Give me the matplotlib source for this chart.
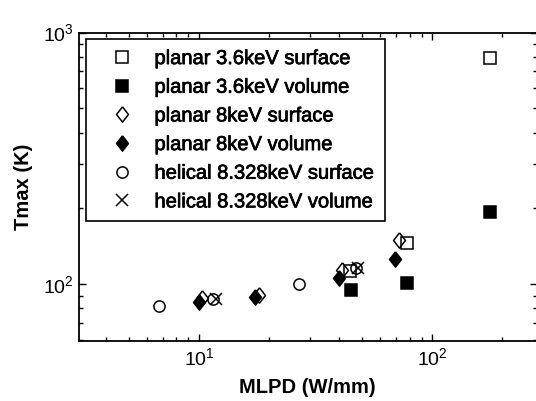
import matplotlib
matplotlib.use("Agg")
import matplotlib.pyplot as plt
import matplotlib.patheffects as pe
from matplotlib.ticker import LogLocator, NullFormatter

plt.rcParams['font.family'] = ['Liberation Sans', 'DejaVu Sans']
plt.rcParams['mathtext.fontset'] = 'custom'
plt.rcParams['mathtext.rm'] = 'Liberation Sans'

labels = ["planar 3.6keV surface", "planar 3.6keV volume", "planar 8keV surface",
          "planar 8keV volume", "helical 8.328keV surface", "helical 8.328keV volume"]

p36_surf_x = [44.4, 78.1, 176.6]
p36_surf_y = [113, 146, 789]
p36_vol_x = [44.8, 77.6, 176.6]
p36_vol_y = [94.7, 101, 194]
p8_surf_x = [10.3, 18.1, 41.1, 72.0]
p8_surf_y = [87.7, 90.4, 114, 150]
p8_vol_x = [10.0, 17.4, 39.8, 69.2]
p8_vol_y = [85.1, 88.5, 106, 126]
hel_surf_x = [6.74, 11.5, 26.9, 47.1]
hel_surf_y = [82.0, 87.2, 100, 116]
hel_vol_x = [11.8, 48.0]
hel_vol_y = [87.2, 116]

fig = plt.figure(figsize=(5.36, 4.01), dpi=100)
ax = fig.add_axes([79/536, 1-340.7/401, (536.5-79)/536, (340.7-32.5)/401])

diamond = [(0, 1), (0.78, 0), (0, -1), (-0.78, 0), (0, 1)]
ms = 8.5
ax.plot(p36_surf_x, p36_surf_y, ls='none', marker='s', ms=ms, mfc='none', mec='black', mew=1.1, label=labels[0])
ax.plot(p36_vol_x, p36_vol_y, ls='none', marker='s', ms=ms, mfc='black', mec='black', mew=1.1, label=labels[1])
ax.plot(p8_surf_x, p8_surf_y, ls='none', marker=diamond, ms=11, mfc='none', mec='black', mew=1.1, label=labels[2])
ax.plot(p8_vol_x, p8_vol_y, ls='none', marker=diamond, ms=11, mfc='black', mec='black', mew=1.1, label=labels[3])
ax.plot(hel_surf_x, hel_surf_y, ls='none', marker='o', ms=ms*0.95, mfc='none', mec='black', mew=1.1, label=labels[4])
ax.plot(hel_vol_x, hel_vol_y, ls='none', marker='x', ms=ms*0.95, mfc='none', mec='black', mew=1.1, label=labels[5])

ax.set_xscale('log')
ax.set_yscale('log')
ax.set_xlim(3.06, 280)
ax.set_ylim(59.5, 1000)

ax.xaxis.set_major_locator(LogLocator(base=10, numticks=10))
ax.yaxis.set_major_locator(LogLocator(base=10, numticks=10))
ax.xaxis.set_minor_locator(LogLocator(base=10, subs=range(2, 10), numticks=20))
ax.yaxis.set_minor_locator(LogLocator(base=10, subs=range(2, 10), numticks=20))
ax.xaxis.set_minor_formatter(NullFormatter())
ax.yaxis.set_minor_formatter(NullFormatter())

ax.tick_params(which='both', direction='in', top=True, right=True, labelsize=14, width=1.0)
ax.tick_params(which='major', length=5)
ax.tick_params(axis='x', which='major', pad=5)
ax.tick_params(axis='y', which='major', pad=4)
ax.tick_params(which='minor', length=3)
for s in ax.spines.values():
    s.set_linewidth(1.3)

ax.set_xlabel('MLPD (W/mm)', fontsize=14.5, fontweight='bold', labelpad=6)
ax.set_ylabel('Tmax (K)', fontsize=14.5, fontweight='bold', labelpad=7)

leg = ax.legend(loc='upper left', bbox_to_anchor=(86/536, 1-39/401), bbox_transform=fig.transFigure,
                fontsize=14.5, frameon=True, fancybox=False, borderaxespad=0, handlelength=2.6,
                handletextpad=0.3, labelspacing=0.48, borderpad=0.5)
leg.get_frame().set_edgecolor('black')
leg.get_frame().set_linewidth(1.2)
leg.get_frame().set_alpha(1)
for t in leg.get_texts():
    t.set_path_effects([pe.withStroke(linewidth=0.5, foreground='black')])

fig.savefig('out.png', dpi=100)
